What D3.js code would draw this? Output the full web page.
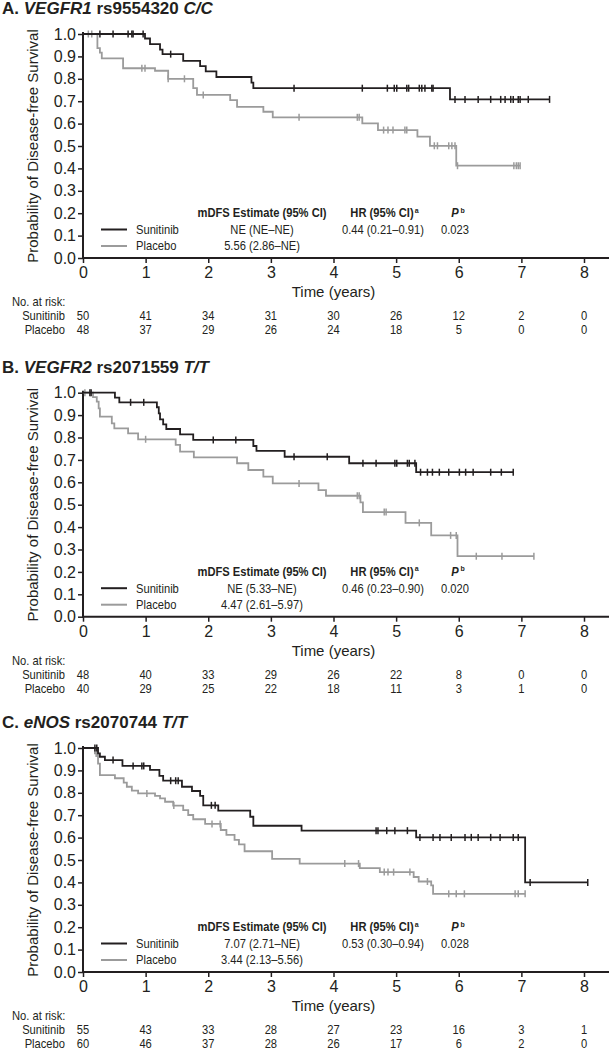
<!DOCTYPE html>
<html>
<head>
<meta charset="utf-8">
<script src="https://cdn.jsdelivr.net/npm/d3@7"></script>
<style>
body { margin: 0; background: #fff; }
svg { display: block; font-family: "Liberation Sans", Arial, sans-serif; }
</style>
</head>
<body>
<script>
const w = 613,
	h = 1050;

const years = [0, 1, 2, 3, 4, 5, 6, 7, 8];
const yTicks = [0, 0.1, 0.2, 0.3, 0.4, 0.5, 0.6, 0.7, 0.8, 0.9, 1.0];
const statHeaders = ['mDFS Estimate (95% CI)', 'HR (95% CI)', 'P'];
const headerNotes = ['', 'a', 'b'];
const groups = ['Sunitinib', 'Placebo'];

// panel A - VEGFR1 rs9554320 C/C
const titleA = ['A. ', 'VEGFR1', ' rs9554320 ', 'C/C'];
const sunStepsA = [[0, 1], [0.99, 0.98], [1.07, 0.955], [1.23, 0.93], [1.27, 0.91], [1.60, 0.88], [1.87, 0.857], [1.96, 0.833],
	[2.13, 0.808], [2.69, 0.783], [2.72, 0.758], [5.86, 0.708]];
const sunCensorA = [0.27, 0.48, 0.72, 0.78, 0.80, 0.96, 1.40, 3.37, 4.46, 4.86, 4.97, 5.01, 5.17, 5.20, 5.37, 5.41, 5.46, 5.57, 5.59,
	5.94, 6.10, 6.31, 6.51, 6.67, 6.74, 6.83, 6.87, 6.95, 6.98, 7.11, 7.45];
const plaStepsA = [[0, 1], [0.23, 0.937], [0.27, 0.917], [0.30, 0.891], [0.64, 0.847], [1.15, 0.836], [1.36, 0.80], [1.76, 0.758],
	[1.82, 0.728], [2.35, 0.705], [2.46, 0.675], [2.88, 0.653], [3.03, 0.628], [4.46, 0.601], [4.71, 0.571], [5.34, 0.542],
	[5.54, 0.501], [5.96, 0.412]];
const plaCensorA = [0.085, 0.14, 0.94, 0.99, 1.36, 1.62, 1.92, 3.45, 4.38, 4.41, 4.80, 4.87, 4.95, 5.14, 5.17, 5.61, 5.66, 5.84,
	5.89, 5.94, 5.98, 6.88, 6.92, 6.95, 6.98];
const riskSunA = [50, 41, 34, 31, 30, 26, 12, 2, 0];
const riskPlaA = [48, 37, 29, 26, 24, 18, 5, 0, 0];
const statsSunA = ['NE (NE–NE)', '0.44 (0.21–0.91)', '0.023'];
const statsPlaA = ['5.56 (2.86–NE)'];

// panel B - VEGFR2 rs2071559 T/T
const titleB = ['B. ', 'VEGFR2', ' rs2071559 ', 'T/T'];
const sunStepsB = [[0, 1], [0.51, 0.978], [0.58, 0.957], [1.18, 0.935], [1.21, 0.908], [1.23, 0.881], [1.28, 0.859], [1.33, 0.838],
	[1.55, 0.814], [1.76, 0.789], [2.72, 0.762], [2.77, 0.74], [3.22, 0.714], [4.25, 0.685], [5.32, 0.645]];
const sunCensorB = [0.11, 0.13, 0.76, 0.97, 2.08, 2.44, 3.37, 3.90, 4.47, 4.68, 4.98, 5.01, 5.18, 5.21, 5.30, 5.39, 5.50, 5.58,
	5.69, 5.84, 6.01, 6.11, 6.23, 6.51, 6.68, 6.87];
const plaStepsB = [[0, 1], [0.16, 0.98], [0.22, 0.96], [0.25, 0.93], [0.27, 0.893], [0.46, 0.863], [0.50, 0.841], [0.72, 0.818],
	[0.88, 0.792], [1.48, 0.767], [1.55, 0.737], [1.77, 0.711], [2.46, 0.685], [2.64, 0.655], [2.88, 0.625], [3.03, 0.595],
	[3.76, 0.565], [3.88, 0.54], [4.43, 0.51], [4.47, 0.467], [5.15, 0.419], [5.56, 0.363], [5.98, 0.27]];
const plaCensorB = [0.03, 1.0, 3.45, 4.38, 4.41, 4.81, 4.84, 5.37, 5.87, 5.96, 6.28, 6.69, 7.20];
const riskSunB = [48, 40, 33, 29, 26, 22, 8, 0, 0];
const riskPlaB = [40, 29, 25, 22, 18, 11, 3, 1, 0];
const statsSunB = ['NE (5.33–NE)', '0.46 (0.23–0.90)', '0.020'];
const statsPlaB = ['4.47 (2.61–5.97)'];

// panel C - eNOS rs2070744 T/T
const titleC = ['C. ', 'eNOS', ' rs2070744 ', 'T/T'];
const sunStepsC = [[0, 1], [0.24, 0.976], [0.27, 0.961], [0.35, 0.946], [0.63, 0.92], [1.07, 0.902], [1.22, 0.876], [1.28, 0.854],
	[1.58, 0.827], [1.74, 0.808], [1.87, 0.786], [1.92, 0.744], [2.16, 0.72], [2.67, 0.693], [2.72, 0.653], [3.49, 0.631],
	[5.32, 0.601], [7.06, 0.40]];
const sunCensorC = [0.19, 0.22, 0.48, 0.80, 0.94, 0.97, 1.40, 1.48, 1.52, 2.05, 2.11, 4.68, 4.71, 4.85, 4.98, 5.18, 5.38, 5.59,
	5.70, 5.88, 6.10, 6.20, 6.31, 6.51, 6.66, 6.87, 6.95, 7.14, 8.06];
const plaStepsC = [[0, 1], [0.19, 0.976], [0.24, 0.93], [0.27, 0.879], [0.51, 0.865], [0.65, 0.845], [0.70, 0.827], [0.78, 0.81],
	[0.88, 0.797], [1.15, 0.786], [1.23, 0.775], [1.31, 0.76], [1.44, 0.743], [1.60, 0.723], [1.68, 0.701], [1.76, 0.682],
	[1.95, 0.661], [2.20, 0.634], [2.29, 0.612], [2.42, 0.59], [2.49, 0.57], [2.58, 0.539], [3.02, 0.505], [3.46, 0.484],
	[4.42, 0.464], [4.74, 0.446], [5.28, 0.424], [5.36, 0.404], [5.56, 0.387], [5.59, 0.349]];
const plaCensorC = [0.21, 0.23, 1.02, 1.45, 2.06, 2.19, 4.18, 4.40, 4.81, 4.87, 4.96, 5.22, 5.50, 5.84, 5.96, 6.09, 6.90, 6.95, 7.06];
const riskSunC = [55, 43, 33, 28, 27, 23, 16, 3, 1];
const riskPlaC = [60, 46, 37, 28, 26, 17, 6, 2, 0];
const statsSunC = ['7.07 (2.71–NE)', '0.53 (0.30–0.94)', '0.028'];
const statsPlaC = ['3.44 (2.13–5.56)'];

const black = '#231f20',
	gray = '#9b9b9b';

const panels = [
	{top: 34, title: titleA, series: [
		{steps: plaStepsA, censor: plaCensorA, color: gray},
		{steps: sunStepsA, censor: sunCensorA, color: black}
	], risk: [riskSunA, riskPlaA], stats: [statsSunA, statsPlaA]},
	{top: 392.7, title: titleB, series: [
		{steps: plaStepsB, censor: plaCensorB, color: gray},
		{steps: sunStepsB, censor: sunCensorB, color: black}
	], risk: [riskSunB, riskPlaB], stats: [statsSunB, statsPlaB]},
	{top: 748, title: titleC, series: [
		{steps: plaStepsC, censor: plaCensorC, color: gray},
		{steps: sunStepsC, censor: sunCensorC, color: black}
	], risk: [riskSunC, riskPlaC], stats: [statsSunC, statsPlaC]}
];

const svg = d3.select('body')
	.append('svg')
	.attr('width', w)
	.attr('height', h);

const x = d3.scaleLinear().domain([0, 8]).range([83, 584]);
const plotH = 224;
const squeeze = 0.86; //the original uses a narrow face for the small text

//value of a step curve at time t
const survAt = (steps, t) => {
	let v = steps[0][1];
	steps.forEach((s) => { if (s[0] <= t) v = s[1]; });
	return v;
};

//narrow text: scale it in x and keep its anchor in place
const narrowText = (sel, px, py) => sel.append('text')
	.attr('x', px / squeeze)
	.attr('y', py)
	.attr('transform', `scale(${squeeze},1)`);

const drawPanel = (p) => {
	const g = svg.append('g');
	const y = d3.scaleLinear().domain([0, 1]).range([p.top + plotH, p.top]);
	const y0 = y(0);

	//title
	const title = g.append('text')
		.attr('x', 2)
		.attr('y', p.top - 20)
		.attr('font-size', 17)
		.attr('font-weight', 'bold')
		.attr('fill', black);
	p.title.forEach((t, i) => {
		title.append('tspan')
			.attr('font-style', i % 2 === 1 ? 'italic' : 'normal')
			.text(t);
	});

	//axes
	const yAxis = g.append('g')
		.attr('transform', `translate(${x(0)},0)`)
		.call(d3.axisLeft(y).tickValues(yTicks).tickFormat(d3.format('.1f')).tickSize(5).tickPadding(2).tickSizeOuter(0));
	yAxis.select('.domain').remove();
	yAxis.selectAll('.tick line').attr('stroke', black).attr('stroke-width', 1.5);
	yAxis.selectAll('.tick text').attr('font-size', 16).attr('fill', black).attr('font-family', '"Liberation Sans", Arial, sans-serif');

	const xAxis = g.append('g')
		.attr('transform', `translate(0,${y0})`)
		.call(d3.axisBottom(x).tickValues(years).tickFormat(d3.format('d')).tickSize(5).tickPadding(4).tickSizeOuter(0));
	xAxis.select('.domain').remove();
	xAxis.selectAll('.tick line').attr('stroke', black).attr('stroke-width', 1.5);
	xAxis.selectAll('.tick text').attr('font-size', 16).attr('fill', black).attr('font-family', '"Liberation Sans", Arial, sans-serif');

	g.append('line')
		.attr('x1', x(0)).attr('x2', x(0))
		.attr('y1', y(1) - 2).attr('y2', y0 + 1)
		.attr('stroke', black).attr('stroke-width', 2);
	g.append('line')
		.attr('x1', x(0) - 1).attr('x2', 609)
		.attr('y1', y0).attr('y2', y0)
		.attr('stroke', black).attr('stroke-width', 2);

	g.append('text')
		.attr('transform', `translate(33,${(y(0) + y(1)) / 2}) rotate(-90)`)
		.attr('text-anchor', 'middle')
		.attr('dy', '0.35em')
		.attr('font-size', 15)
		.attr('fill', black)
		.text('Probability of Disease-free Survival');

	g.append('text')
		.attr('x', (x(0) + x(8)) / 2)
		.attr('y', y0 + 39)
		.attr('text-anchor', 'middle')
		.attr('font-size', 15)
		.attr('fill', black)
		.text('Time (years)');

	//curves
	const line = d3.line()
		.x((d) => x(d[0]))
		.y((d) => y(d[1]))
		.curve(d3.curveStepAfter);

	p.series.forEach((s) => {
		const end = d3.max(s.censor);
		const pts = s.steps.concat([[end, s.steps[s.steps.length - 1][1]]]);
		g.append('path')
			.attr('d', line(pts))
			.attr('fill', 'none')
			.attr('stroke', s.color)
			.attr('stroke-width', 1.8);
		g.selectAll(null)
			.data(s.censor)
			.enter()
			.append('line')
			.attr('x1', (d) => x(d))
			.attr('x2', (d) => x(d))
			.attr('y1', (d) => y(survAt(s.steps, d)) - 3.5)
			.attr('y2', (d) => y(survAt(s.steps, d)) + 3.5)
			.attr('stroke', s.color)
			.attr('stroke-width', 1.5);
	});

	//legend + stats
	const lg = g.append('g').attr('fill', black).attr('font-size', 13);
	const hy = y0 - 45;
	const colX = [262, 382, 455];
	statHeaders.forEach((t, i) => {
		const head = narrowText(lg, colX[i], hy + 4.5)
			.attr('text-anchor', 'middle')
			.attr('font-weight', 'bold')
			.attr('font-style', i === 2 ? 'italic' : 'normal')
			.text(t);
		if (headerNotes[i]) {
			const b = head.node().getBBox();
			lg.append('text')
				.attr('x', (b.x + b.width) * squeeze + 1)
				.attr('y', hy - 0.5)
				.attr('font-size', 7)
				.attr('font-weight', 'bold')
				.text(headerNotes[i]);
		}
	});
	[black, gray].forEach((c, j) => {
		const ry = hy + 16.5 * (j + 1);
		lg.append('line')
			.attr('x1', 101).attr('x2', 127)
			.attr('y1', ry).attr('y2', ry)
			.attr('stroke', c)
			.attr('stroke-width', 2);
		narrowText(lg, 136, ry + 4.5).text(groups[j]);
		p.stats[j].forEach((t, i) => {
			narrowText(lg, colX[i] + (i === 1 ? 1 : 0), ry + 4.5)
				.attr('text-anchor', 'middle')
				.text(t);
		});
	});

	//numbers at risk
	const rk = g.append('g').attr('fill', black).attr('font-size', 13);
	narrowText(rk, 12, y0 + 48.5).text('No. at risk:');
	p.risk.forEach((r, j) => {
		const ry = y0 + 62.5 + 13.5 * j;
		narrowText(rk, 65, ry)
			.attr('text-anchor', 'end')
			.text(groups[j]);
		r.forEach((d, i) => {
			narrowText(rk, x(years[i]), ry)
				.attr('text-anchor', 'middle')
				.text(d);
		});
	});
};

panels.forEach(drawPanel);
</script>
</body>
</html>
